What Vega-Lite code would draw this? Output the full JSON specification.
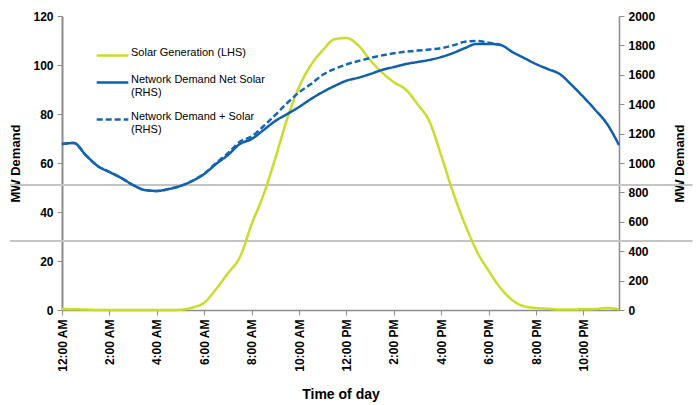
{
  "$schema": "https://vega.github.io/schema/vega-lite/v6.json",
  "width": 557,
  "height": 294,
  "autosize": {"type": "none"},
  "padding": {"left": 62, "top": 16, "right": 80, "bottom": 95},
  "background": "white",
  "config": {
    "view": {"stroke": null},
    "font": "Liberation Sans",
    "axis": {"grid": false, "domainColor": "#8c8c8c", "tickColor": "#8c8c8c", "domainWidth": 1.5, "tickSize": 5, "labelFont": "Liberation Sans", "labelFontWeight": "bold", "labelFontSize": 12, "labelColor": "#000", "titleFont": "Liberation Sans", "titleFontWeight": "bold", "titleFontSize": 13, "titleColor": "#000"},
    "legend": {"labelFont": "Liberation Sans", "labelFontSize": 11, "labelColor": "#000"}
  },
  "datasets": {
    "rows": [
    {"t":0,"series":"Solar Generation (LHS)","v":0.4},{"t":0.5,"series":"Solar Generation (LHS)","v":0.3},{"t":1,"series":"Solar Generation (LHS)","v":0.2},{"t":1.5,"series":"Solar Generation (LHS)","v":0},{"t":2,"series":"Solar Generation (LHS)","v":0},{"t":2.5,"series":"Solar Generation (LHS)","v":0},{"t":3,"series":"Solar Generation (LHS)","v":0},{"t":3.5,"series":"Solar Generation (LHS)","v":0},{"t":4,"series":"Solar Generation (LHS)","v":0},{"t":4.5,"series":"Solar Generation (LHS)","v":0},{"t":5,"series":"Solar Generation (LHS)","v":0.1},{"t":5.5,"series":"Solar Generation (LHS)","v":1.0},{"t":6,"series":"Solar Generation (LHS)","v":3.0},{"t":6.5,"series":"Solar Generation (LHS)","v":8.5},{"t":7,"series":"Solar Generation (LHS)","v":15},{"t":7.5,"series":"Solar Generation (LHS)","v":21.5},{"t":8,"series":"Solar Generation (LHS)","v":35},{"t":8.5,"series":"Solar Generation (LHS)","v":47},{"t":9,"series":"Solar Generation (LHS)","v":62},{"t":9.5,"series":"Solar Generation (LHS)","v":78},{"t":10,"series":"Solar Generation (LHS)","v":91},{"t":10.5,"series":"Solar Generation (LHS)","v":100},{"t":11,"series":"Solar Generation (LHS)","v":106},{"t":11.5,"series":"Solar Generation (LHS)","v":110.5},{"t":12,"series":"Solar Generation (LHS)","v":111},{"t":12.5,"series":"Solar Generation (LHS)","v":108},{"t":13,"series":"Solar Generation (LHS)","v":102},{"t":13.5,"series":"Solar Generation (LHS)","v":97},{"t":14,"series":"Solar Generation (LHS)","v":93},{"t":14.5,"series":"Solar Generation (LHS)","v":90},{"t":15,"series":"Solar Generation (LHS)","v":84},{"t":15.5,"series":"Solar Generation (LHS)","v":77},{"t":16,"series":"Solar Generation (LHS)","v":63},{"t":16.5,"series":"Solar Generation (LHS)","v":48},{"t":17,"series":"Solar Generation (LHS)","v":35},{"t":17.5,"series":"Solar Generation (LHS)","v":24},{"t":18,"series":"Solar Generation (LHS)","v":16},{"t":18.5,"series":"Solar Generation (LHS)","v":9},{"t":19,"series":"Solar Generation (LHS)","v":4},{"t":19.5,"series":"Solar Generation (LHS)","v":1.5},{"t":20,"series":"Solar Generation (LHS)","v":0.8},{"t":20.5,"series":"Solar Generation (LHS)","v":0.5},{"t":21,"series":"Solar Generation (LHS)","v":0.2},{"t":21.5,"series":"Solar Generation (LHS)","v":0.2},{"t":22,"series":"Solar Generation (LHS)","v":0.3},{"t":22.5,"series":"Solar Generation (LHS)","v":0.4},{"t":23,"series":"Solar Generation (LHS)","v":0.8},{"t":23.5,"series":"Solar Generation (LHS)","v":0.3},
    {"t":0,"series":"Network Demand  Net Solar|(RHS)","v":1129},{"t":0.5,"series":"Network Demand  Net Solar|(RHS)","v":1136},{"t":1,"series":"Network Demand  Net Solar|(RHS)","v":1054},{"t":1.5,"series":"Network Demand  Net Solar|(RHS)","v":980},{"t":2,"series":"Network Demand  Net Solar|(RHS)","v":939},{"t":2.5,"series":"Network Demand  Net Solar|(RHS)","v":898},{"t":3,"series":"Network Demand  Net Solar|(RHS)","v":850},{"t":3.5,"series":"Network Demand  Net Solar|(RHS)","v":816},{"t":4,"series":"Network Demand  Net Solar|(RHS)","v":810},{"t":4.5,"series":"Network Demand  Net Solar|(RHS)","v":823},{"t":5,"series":"Network Demand  Net Solar|(RHS)","v":844},{"t":5.5,"series":"Network Demand  Net Solar|(RHS)","v":878},{"t":6,"series":"Network Demand  Net Solar|(RHS)","v":925},{"t":6.5,"series":"Network Demand  Net Solar|(RHS)","v":993},{"t":7,"series":"Network Demand  Net Solar|(RHS)","v":1054},{"t":7.5,"series":"Network Demand  Net Solar|(RHS)","v":1129},{"t":8,"series":"Network Demand  Net Solar|(RHS)","v":1163},{"t":8.5,"series":"Network Demand  Net Solar|(RHS)","v":1224},{"t":9,"series":"Network Demand  Net Solar|(RHS)","v":1286},{"t":9.5,"series":"Network Demand  Net Solar|(RHS)","v":1333},{"t":10,"series":"Network Demand  Net Solar|(RHS)","v":1381},{"t":10.5,"series":"Network Demand  Net Solar|(RHS)","v":1435},{"t":11,"series":"Network Demand  Net Solar|(RHS)","v":1483},{"t":11.5,"series":"Network Demand  Net Solar|(RHS)","v":1524},{"t":12,"series":"Network Demand  Net Solar|(RHS)","v":1560},{"t":12.5,"series":"Network Demand  Net Solar|(RHS)","v":1580},{"t":13,"series":"Network Demand  Net Solar|(RHS)","v":1605},{"t":13.5,"series":"Network Demand  Net Solar|(RHS)","v":1633},{"t":14,"series":"Network Demand  Net Solar|(RHS)","v":1653},{"t":14.5,"series":"Network Demand  Net Solar|(RHS)","v":1673},{"t":15,"series":"Network Demand  Net Solar|(RHS)","v":1687},{"t":15.5,"series":"Network Demand  Net Solar|(RHS)","v":1701},{"t":16,"series":"Network Demand  Net Solar|(RHS)","v":1721},{"t":16.5,"series":"Network Demand  Net Solar|(RHS)","v":1748},{"t":17,"series":"Network Demand  Net Solar|(RHS)","v":1782},{"t":17.5,"series":"Network Demand  Net Solar|(RHS)","v":1810},{"t":18,"series":"Network Demand  Net Solar|(RHS)","v":1810},{"t":18.5,"series":"Network Demand  Net Solar|(RHS)","v":1803},{"t":19,"series":"Network Demand  Net Solar|(RHS)","v":1755},{"t":19.5,"series":"Network Demand  Net Solar|(RHS)","v":1714},{"t":20,"series":"Network Demand  Net Solar|(RHS)","v":1673},{"t":20.5,"series":"Network Demand  Net Solar|(RHS)","v":1639},{"t":21,"series":"Network Demand  Net Solar|(RHS)","v":1605},{"t":21.5,"series":"Network Demand  Net Solar|(RHS)","v":1531},{"t":22,"series":"Network Demand  Net Solar|(RHS)","v":1449},{"t":22.5,"series":"Network Demand  Net Solar|(RHS)","v":1361},{"t":23,"series":"Network Demand  Net Solar|(RHS)","v":1265},{"t":23.5,"series":"Network Demand  Net Solar|(RHS)","v":1122},
    {"t":0,"series":"Network Demand + Solar|(RHS)","v":1129},{"t":0.5,"series":"Network Demand + Solar|(RHS)","v":1136},{"t":1,"series":"Network Demand + Solar|(RHS)","v":1054},{"t":1.5,"series":"Network Demand + Solar|(RHS)","v":980},{"t":2,"series":"Network Demand + Solar|(RHS)","v":939},{"t":2.5,"series":"Network Demand + Solar|(RHS)","v":898},{"t":3,"series":"Network Demand + Solar|(RHS)","v":850},{"t":3.5,"series":"Network Demand + Solar|(RHS)","v":816},{"t":4,"series":"Network Demand + Solar|(RHS)","v":810},{"t":4.5,"series":"Network Demand + Solar|(RHS)","v":823},{"t":5,"series":"Network Demand + Solar|(RHS)","v":844},{"t":5.5,"series":"Network Demand + Solar|(RHS)","v":879},{"t":6,"series":"Network Demand + Solar|(RHS)","v":928},{"t":6.5,"series":"Network Demand + Solar|(RHS)","v":1000},{"t":7,"series":"Network Demand + Solar|(RHS)","v":1066},{"t":7.5,"series":"Network Demand + Solar|(RHS)","v":1145},{"t":8,"series":"Network Demand + Solar|(RHS)","v":1180},{"t":8.5,"series":"Network Demand + Solar|(RHS)","v":1250},{"t":9,"series":"Network Demand + Solar|(RHS)","v":1327},{"t":9.5,"series":"Network Demand + Solar|(RHS)","v":1408},{"t":10,"series":"Network Demand + Solar|(RHS)","v":1480},{"t":10.5,"series":"Network Demand + Solar|(RHS)","v":1537},{"t":11,"series":"Network Demand + Solar|(RHS)","v":1600},{"t":11.5,"series":"Network Demand + Solar|(RHS)","v":1640},{"t":12,"series":"Network Demand + Solar|(RHS)","v":1670},{"t":12.5,"series":"Network Demand + Solar|(RHS)","v":1694},{"t":13,"series":"Network Demand + Solar|(RHS)","v":1714},{"t":13.5,"series":"Network Demand + Solar|(RHS)","v":1732},{"t":14,"series":"Network Demand + Solar|(RHS)","v":1746},{"t":14.5,"series":"Network Demand + Solar|(RHS)","v":1757},{"t":15,"series":"Network Demand + Solar|(RHS)","v":1765},{"t":15.5,"series":"Network Demand + Solar|(RHS)","v":1772},{"t":16,"series":"Network Demand + Solar|(RHS)","v":1782},{"t":16.5,"series":"Network Demand + Solar|(RHS)","v":1800},{"t":17,"series":"Network Demand + Solar|(RHS)","v":1825},{"t":17.5,"series":"Network Demand + Solar|(RHS)","v":1830},{"t":18,"series":"Network Demand + Solar|(RHS)","v":1818},{"t":18.5,"series":"Network Demand + Solar|(RHS)","v":1805}
    ],
    "guides": [{"g": 51.0}, {"g": 28.2}]
  },
  "data": {"name": "rows"},
  "layer": [
    {
      "layer": [
        {
          "data": {"name": "guides"},
          "mark": {"type": "rule", "color": "#c4c4c4", "strokeWidth": 2, "clip": false},
          "encoding": {
            "x": {"datum": -2.2, "type": "quantitative", "scale": {"domain": [0, 23.5], "nice": false, "zero": false}},
            "x2": {"datum": 26.6},
            "y": {"field": "g", "type": "quantitative"}
          }
        },
        {
          "transform": [{"filter": "datum.series == 'Solar Generation (LHS)'"}],
          "mark": {"type": "line", "strokeWidth": 2.5, "interpolate": "monotone"},
          "encoding": {
            "x": {"field": "t", "type": "quantitative", "scale": {"domain": [0, 23.5], "nice": false, "zero": false},
              "axis": {"values": [0,2,4,6,8,10,12,14,16,18,20,22], "labelAngle": -90, "labelFontSize": 12, "labelPadding": 4, "title": "Time of day", "titleFontSize": 14, "titlePadding": 16,
                "labelExpr": "(datum.value % 12 == 0 ? 12 : datum.value % 12) + ':00 ' + (datum.value < 12 ? 'AM' : 'PM')"}},
            "y": {"field": "v", "type": "quantitative", "scale": {"domain": [0, 120], "nice": false}, "axis": {"values": [0,20,40,60,80,100,120], "title": "MW Demand", "titlePadding": 10, "labelPadding": 4, "domainWidth": 2, "orient": "left"}},
            "color": {"field": "series", "type": "nominal"},
            "strokeDash": {"field": "series", "type": "nominal"}
          }
        }
      ]
    },
    {
      "transform": [{"filter": "datum.series != 'Solar Generation (LHS)'"}],
      "mark": {"type": "line", "strokeWidth": 2.5, "interpolate": "monotone"},
      "encoding": {
        "x": {"field": "t", "type": "quantitative"},
        "y": {"field": "v", "type": "quantitative", "scale": {"domain": [0, 2000], "nice": false}, "axis": {"values": [0,200,400,600,800,1000,1200,1400,1600,1800,2000], "format": "d", "title": "MW Demand", "titleAngle": -90, "titleBaseline": "middle", "titleAlign": "center", "titleX": 60, "titleY": 147, "orient": "right", "labelPadding": 4}},
        "color": {"field": "series", "type": "nominal",
          "scale": {"domain": ["Solar Generation (LHS)", "Network Demand  Net Solar|(RHS)", "Network Demand + Solar|(RHS)"], "range": ["#c9dc2c", "#0f5fae", "#1565b5"]},
          "legend": {"orient": "none", "legendX": 33, "legendY": 22, "title": null, "symbolType": "stroke", "symbolSize": 1000, "symbolStrokeWidth": 2.5, "labelExpr": "split(datum.label, '|')", "labelBaseline": "alphabetic", "rowPadding": 4, "labelOffset": 1, "padding": 0}},
        "strokeDash": {"field": "series", "type": "nominal",
          "scale": {"domain": ["Solar Generation (LHS)", "Network Demand  Net Solar|(RHS)", "Network Demand + Solar|(RHS)"], "range": [[1, 0], [1, 0], [6, 3]]}}
      }
    }
  ],
  "resolve": {"scale": {"y": "independent"}}
}
